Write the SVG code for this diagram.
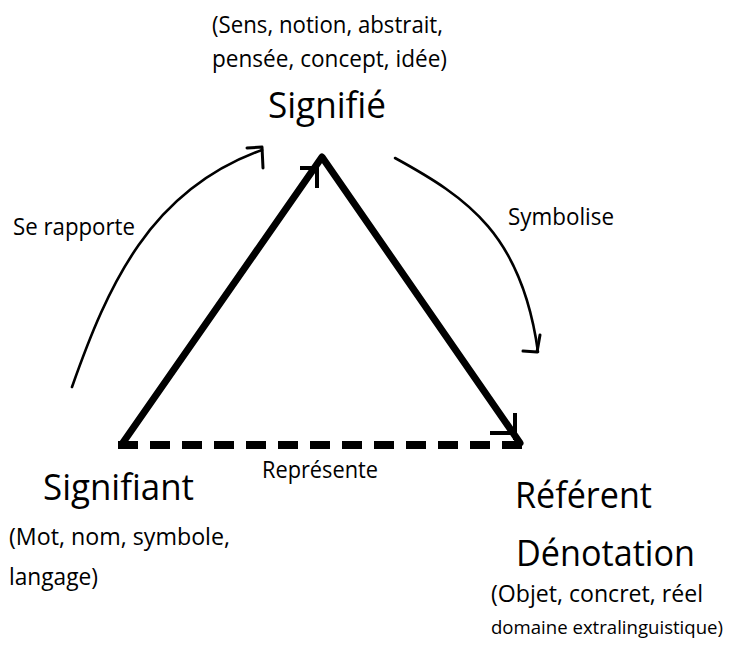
<svg xmlns="http://www.w3.org/2000/svg" width="734" height="648" viewBox="0 0 734 648">
  <style>
    text { font-family: "Open Sans", "Liberation Sans", sans-serif; fill: #000; }
    .big { font-size: 36px; }
    .small { font-size: 24px; }
    .tiny { font-size: 19px; }
    .side { fill: none; stroke: #000; stroke-width: 7; stroke-linecap: round; stroke-linejoin: round; }
    .dash { fill: none; stroke: #000; stroke-width: 8; stroke-dasharray: 20 12; }
    .head { fill: none; stroke: #000; stroke-width: 4; stroke-linecap: butt; }
    .curve { fill: none; stroke: #000; stroke-width: 2.6; stroke-linecap: round; }
    .chead { fill: none; stroke: #000; stroke-width: 3; stroke-linecap: round; stroke-linejoin: round; }
  </style>
  <rect width="734" height="648" fill="#fff"/>

  <g id="connectors">
    <path class="dash" d="M118,445 H522"/>
    <path class="side" d="M122,444 L322,157 L520,443"/>
    <path class="head" d="M300,168 H318 M317,166 V188"/>
    <path class="head" d="M490,433 H516 M515,413 V440"/>
    <path class="curve" d="M72,387 C108,285 150,190 262,150"/>
    <polyline class="chead" points="247,148 262,147 263,168"/>
    <path class="curve" d="M395,158 C468,198 522,235 538,352"/>
    <polyline class="chead" points="523,351 537,352 540,335"/>
    <text class="small" x="13" y="235" textLength="122" lengthAdjust="spacingAndGlyphs">Se rapporte</text>
    <text class="small" x="508" y="225" textLength="106" lengthAdjust="spacingAndGlyphs">Symbolise</text>
    <text class="small" x="262" y="478" textLength="116" lengthAdjust="spacingAndGlyphs">Représente</text>
  </g>

  <g id="signifie">
    <text class="small" x="212" y="33" textLength="231" lengthAdjust="spacingAndGlyphs">(Sens, notion, abstrait,</text>
    <text class="small" x="212" y="67" textLength="235" lengthAdjust="spacingAndGlyphs">pensée, concept, idée)</text>
    <text class="big" x="268" y="118" textLength="118" lengthAdjust="spacingAndGlyphs">Signifié</text>
  </g>

  <g id="signifiant">
    <text class="big" x="43" y="500" textLength="151" lengthAdjust="spacingAndGlyphs">Signifiant</text>
    <text class="small" x="9" y="545" textLength="221" lengthAdjust="spacingAndGlyphs">(Mot, nom, symbole,</text>
    <text class="small" x="9" y="585" textLength="89" lengthAdjust="spacingAndGlyphs">langage)</text>
  </g>

  <g id="referent">
    <text class="big" x="515" y="508" textLength="137" lengthAdjust="spacingAndGlyphs">Référent</text>
    <text class="big" x="516" y="566" textLength="179" lengthAdjust="spacingAndGlyphs">Dénotation</text>
    <text class="small" x="491" y="602" textLength="212" lengthAdjust="spacingAndGlyphs">(Objet, concret, réel</text>
    <text class="tiny" x="491" y="634" textLength="232" lengthAdjust="spacingAndGlyphs">domaine extralinguistique)</text>
  </g>
</svg>
